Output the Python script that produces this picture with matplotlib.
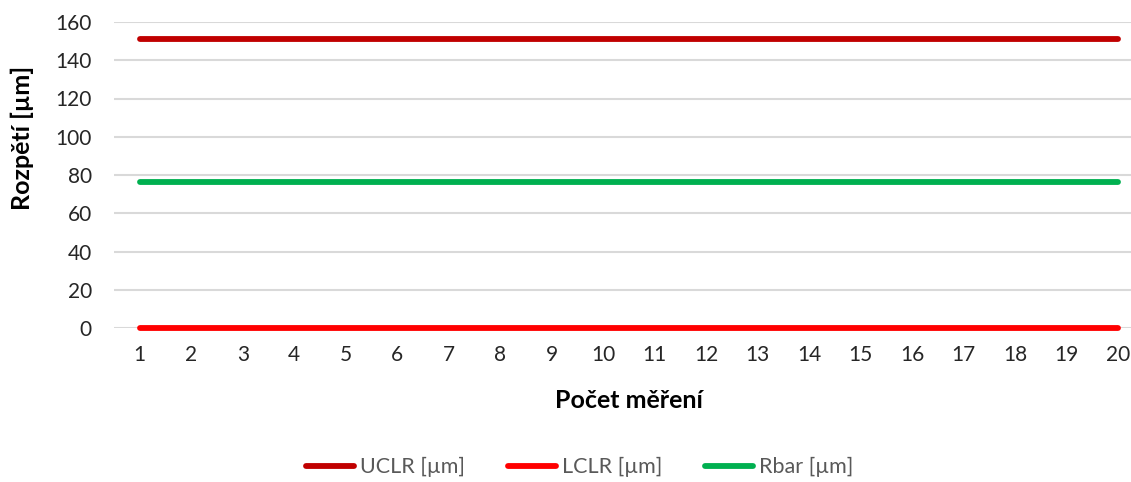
import matplotlib
matplotlib.use("Agg")
import matplotlib.pyplot as plt

measurements = list(range(1, 21))
uclr = [151.0] * 20
lclr = [0.0] * 20
rbar = [76.2] * 20

series_names = ["UCLR [µm]", "LCLR [µm]", "Rbar [µm]"]
colors = ["#C00000", "#FF0000", "#00B050"]

plt.rcParams["font.family"] = ["Lato", "DejaVu Sans"]

W, H = 1131, 482
fig = plt.figure(figsize=(W / 100, H / 100), dpi=100)
left, right = 114 / W, 1144 / W
bottom, top = 1 - 328 / H, 1 - 22 / H
ax = fig.add_axes([left, bottom, right - left, top - bottom])

for vals, name, c in zip([uclr, lclr, rbar], series_names, colors):
    ax.plot(measurements, vals, color=c, lw=4.2, solid_capstyle="round",
            label=name, zorder=3, clip_on=False)

ax.set_xlim(0.5, 20.5)
ax.set_ylim(0, 160)
ax.set_yticks(range(0, 161, 20))
ax.set_xticks(measurements)
ax.grid(axis="y", color="#D9D9D9", lw=1.5)
ax.set_axisbelow(True)
for s in ax.spines.values():
    s.set_visible(False)
ax.tick_params(length=0, labelsize=15, colors="#262626")
ax.tick_params(axis="y", pad=16)
ax.tick_params(axis="x", pad=12)

ax.set_xlabel("Počet měření", fontsize=18, fontweight="bold", color="#000000")
ax.xaxis.set_label_coords(0.5, -(400 - 328) / (328 - 22))
ax.xaxis.label.set_va("center")
ax.set_ylabel("Rozpětí [µm]", fontsize=18, fontweight="bold", color="#000000")
ax.yaxis.set_label_coords(-(114 - 22) / (1144 - 114), (328 - 138) / (328 - 22))
ax.yaxis.label.set_va("center")

fig.legend(loc="center", bbox_to_anchor=(580 / W, 1 - 467 / H), ncol=3, frameon=False,
           fontsize=15.5, handlelength=2.2, handletextpad=0.3, columnspacing=2.0,
           labelcolor="#595959")

fig.savefig("out.png", dpi=100)
